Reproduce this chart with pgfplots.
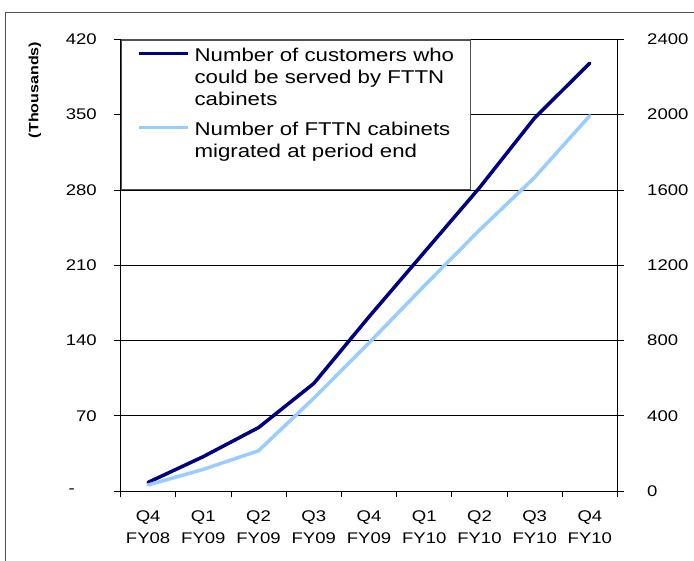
\documentclass[border=0pt]{standalone}
\usepackage{fontspec}
\setmainfont{Liberation Sans}[FakeStretch=1.2]
\usepackage{pgfplots}
\pgfplotsset{compat=1.18}
\definecolor{navy}{HTML}{000080}
\definecolor{lightb}{HTML}{99CCFF}
\definecolor{framegray}{HTML}{505050}
\begin{document}
\begin{tikzpicture}
\useasboundingbox (0bp,0bp) rectangle (694bp,561bp);
\draw[framegray, line width=1.3bp] (5.3bp,548.5bp) -- (720bp,548.5bp);
\draw[framegray, line width=1.3bp] (5.3bp,548.5bp) -- (5.3bp,-20bp);
\pgfplotsset{
  common/.style={
    at={(120.5bp,70bp)}, anchor=south west,
    scale only axis, width=497bp, height=451.6bp,
    xmin=-0.5, xmax=8.5,
    /pgf/number format/assume math mode=true,
    /pgf/number format/1000 sep={},
    tick label style={font=\fontsize{15.5}{21.3}\selectfont},
    tick style={black, line width=0.8bp},
    axis line style={black, line width=0.9bp},
  }
}
\begin{axis}[common,
  axis x line*=bottom, axis y line*=left,
  ymin=0, ymax=420,
  ytick={0,70,140,210,280,350,420},
  yticklabels={{-\kern22bp},70,140,210,280,350,420},
  yticklabel style={anchor=east, inner sep=0pt, xshift=-16.5bp},
  xtick={0,1,2,3,4,5,6,7,8},
  xticklabels={{Q4\\FY08},{Q1\\FY09},{Q2\\FY09},{Q3\\FY09},{Q4\\FY09},{Q1\\FY10},{Q2\\FY10},{Q3\\FY10},{Q4\\FY10}},
  xticklabel style={align=center, anchor=north, inner sep=0pt, yshift=-12.8bp},
  minor xtick={-0.5,0.5,1.5,2.5,3.5,4.5,5.5,6.5,7.5,8.5},
  major x tick style={draw=none},
  tick align=outside, major tick length=7bp, minor tick length=6bp,
  minor x tick style={black, line width=0.8bp},
  ymajorgrids, grid style={black, line width=0.7bp},
  ylabel={(Thousands)},
  ylabel style={at={(axis description cs:-0.172,0.888)}, anchor=center, font=\bfseries\fontsize{13.4}{16}\selectfont},
]
\addplot[navy, line width=3.5bp, line join=round, line cap=round] coordinates {
  (0,8) (1,32) (2,59) (3,100) (4,162) (5,222) (6,282) (7,347) (8,398)
};
\end{axis}
\begin{axis}[common,
  axis y line*=right, hide x axis,
  ymin=0, ymax=2400,
  ytick={0,400,800,1200,1600,2000,2400},
  yticklabel style={anchor=west, inner sep=0pt, xshift=23.5bp},
  tick align=center, major tick length=12bp,
  legend style={at={(0,1)}, anchor=north west, draw=framegray, line width=1.2bp, fill=white,
    inner xsep=16bp, inner ysep=6.3bp, row sep=8.3bp, column sep=5bp,
    font=\fontsize{18.6}{22}\selectfont, cells={anchor=base west},
    nodes={inner sep=0pt, text depth=}},
  legend image code/.code={\draw[#1, line cap=butt] (0bp,8bp) -- (49bp,8bp);},
]
\addlegendimage{navy, line width=3.5bp}
\addplot[lightb, line width=3.5bp, line join=round, line cap=round] coordinates {
  (0,32) (1,115) (2,214) (3,493) (4,787) (5,1090) (6,1386) (7,1667) (8,1995)
};
\legend{{\begin{tabular}[t]{@{}l@{}}Number of customers who\\could be served by FTTN\\cabinets\end{tabular}},
        {\begin{tabular}[t]{@{}l@{}}Number of FTTN cabinets\\migrated at period end\\[19bp]\end{tabular}}}
\end{axis}
\end{tikzpicture}
\end{document}
